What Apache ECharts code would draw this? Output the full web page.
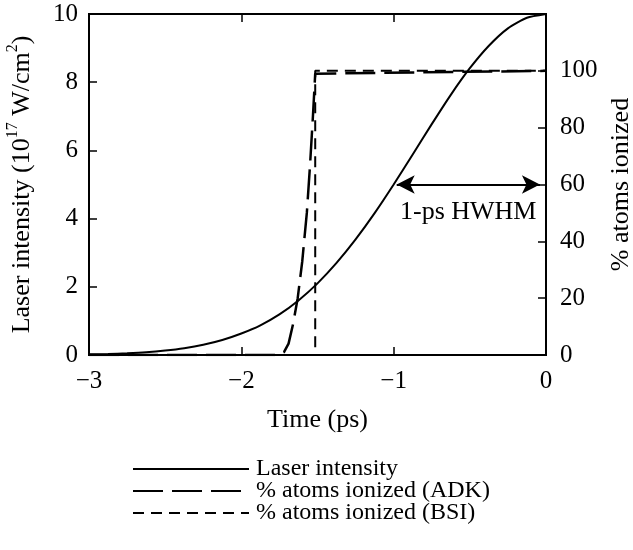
<!DOCTYPE html>
<html>
<head>
<meta charset="utf-8">
<script src="https://cdn.jsdelivr.net/npm/echarts@6/dist/echarts.min.js"></script>
<style>
  html, body { margin: 0; padding: 0; background: #fff; }
  #chart { width: 633px; height: 550px; }
</style>
</head>
<body>
<div id="chart"></div>
<script>
// time axis (ps)
const timeTicks = [-3, -2, -1, 0];

// laser intensity (10^17 W/cm^2)
const laserTime = [-3, -2.875, -2.75, -2.625, -2.5, -2.375, -2.25, -2.125, -2, -1.875, -1.75, -1.625,
  -1.5, -1.375, -1.25, -1.125, -1, -0.875, -0.75, -0.625, -0.5, -0.375, -0.25, -0.125, 0];
const laserValue = [0.02, 0.03, 0.05, 0.08, 0.13, 0.2, 0.3, 0.44, 0.63, 0.87, 1.19, 1.6,
  2.1, 2.7, 3.39, 4.16, 5.0, 5.88, 6.77, 7.63, 8.41, 9.07, 9.58, 9.89, 10];

// % atoms ionized (ADK), long dashes
const adkTime = [-3, -1.76, -1.72, -1.69, -1.66, -1.63, -1.6, -1.57, -1.55, -1.53, -1.515, 0];
const adkValue = [0, 0, 1, 4, 11, 20, 33, 50, 66, 84, 99, 100];

// % atoms ionized (BSI), short dashes
const bsiTime = [-3, -1.515, -1.515, 0];
const bsiValue = [0, 0, 100, 100];

const seriesNames = ['Laser intensity', '% atoms ionized (ADK)', '% atoms ionized (BSI)'];

const pair = (xs, ys) => xs.map((x, i) => [x, ys[i]]);
const serif = '"Liberation Serif", "DejaVu Serif", serif';

const chart = echarts.init(document.getElementById('chart'));

const tickStyle = { inside: true, length: 8, lineStyle: { color: '#000', width: 1.5 } };
const lineStyleAxis = { onZero: false, lineStyle: { color: '#000', width: 2 } };

const option = {
  animation: false,
  backgroundColor: '#fff',
  textStyle: { fontFamily: serif, color: '#000' },
  grid: {
    left: 89, right: 87, top: 14, bottom: 195,
    containLabel: false,
    outerBoundsMode: 'none',
    show: true, borderColor: '#000', borderWidth: 2
  },
  legend: {
    orient: 'vertical',
    left: 127,
    top: 452,
    itemWidth: 116,
    itemHeight: 14,
    itemGap: -2,
    data: seriesNames,
    itemStyle: { opacity: 0 },
    textStyle: {
      fontFamily: serif, fontSize: 24, color: '#000',
      lineHeight: 22, padding: [0, 0, 0, 2]
    }
  },
  xAxis: [{
    type: 'value',
    min: -3, max: 0, interval: 1,
    name: 'Time (ps)',
    nameLocation: 'middle',
    nameGap: 52,
    nameTextStyle: { fontFamily: serif, fontSize: 26, color: '#000' },
    axisLine: lineStyleAxis,
    axisTick: tickStyle,
    axisLabel: {
      fontFamily: serif, fontSize: 25, color: '#000', margin: 14,
      formatter: v => String(v).replace('-', '\u2212')
    },
    splitLine: { show: false }
  }, {
    type: 'value',
    position: 'top',
    min: -3, max: 0, interval: 1,
    axisLine: lineStyleAxis,
    axisTick: tickStyle,
    axisLabel: { show: false },
    splitLine: { show: false }
  }],
  yAxis: [{
    type: 'value',
    position: 'left',
    min: 0, max: 10, interval: 2,
    name: '{a|Laser intensity (10}{s|17}{a| W/cm}{s|2}{a|)}',
    nameLocation: 'middle',
    nameRotate: 90,
    nameGap: 54,
    nameTextStyle: {
      rich: {
        a: { fontFamily: serif, fontSize: 26, color: '#000', lineHeight: 30, verticalAlign: 'bottom' },
        s: { fontFamily: serif, fontSize: 16, color: '#000', lineHeight: 30, verticalAlign: 'top' }
      }
    },
    axisLine: Object.assign({ show: true }, lineStyleAxis),
    axisTick: Object.assign({ show: true }, tickStyle),
    axisLabel: { fontFamily: serif, fontSize: 25, color: '#000', margin: 11 },
    splitLine: { show: false }
  }, {
    type: 'value',
    position: 'right',
    min: 0, max: 120, interval: 20,
    name: '% atoms ionized',
    nameLocation: 'middle',
    nameRotate: 90,
    nameGap: 62,
    nameTextStyle: { fontFamily: serif, fontSize: 26, color: '#000' },
    axisLine: Object.assign({ show: true }, lineStyleAxis),
    axisTick: Object.assign({ show: true }, tickStyle),
    axisLabel: {
      fontFamily: serif, fontSize: 25, color: '#000', margin: 14,
      formatter: v => (v > 100 ? '' : String(v))
    },
    splitLine: { show: false }
  }],
  series: [{
    name: seriesNames[0],
    type: 'line',
    yAxisIndex: 0,
    data: pair(laserTime, laserValue),
    smooth: 0.2,
    symbol: 'none',
    lineStyle: { color: '#000', width: 2, type: 'solid' },
    itemStyle: { color: '#000' },
    markLine: {
      silent: true,
      symbol: ['arrow', 'arrow'],
      symbolSize: [14, 18],
      lineStyle: { color: '#000', width: 2, type: 'solid' },
      label: { show: false },
      data: [[{ coord: [-0.98, 5] }, { coord: [-0.04, 5] }]]
    }
  }, {
    name: seriesNames[1],
    type: 'line',
    yAxisIndex: 1,
    data: pair(adkTime, adkValue),
    symbol: 'none',
    lineStyle: { color: '#000', width: 2.5, type: [30, 9] },
    itemStyle: { color: '#000' }
  }, {
    name: seriesNames[2],
    type: 'line',
    yAxisIndex: 1,
    data: pair(bsiTime, bsiValue),
    symbol: 'none',
    lineStyle: { color: '#000', width: 2, type: [11, 7] },
    itemStyle: { color: '#000' }
  }],
  graphic: [{
    type: 'text',
    left: 400,
    top: 199,
    style: { text: '1-ps HWHM', fontFamily: serif, fontSize: 26, fill: '#000' }
  }]
};

chart.setOption(option);
</script>
</body>
</html>
